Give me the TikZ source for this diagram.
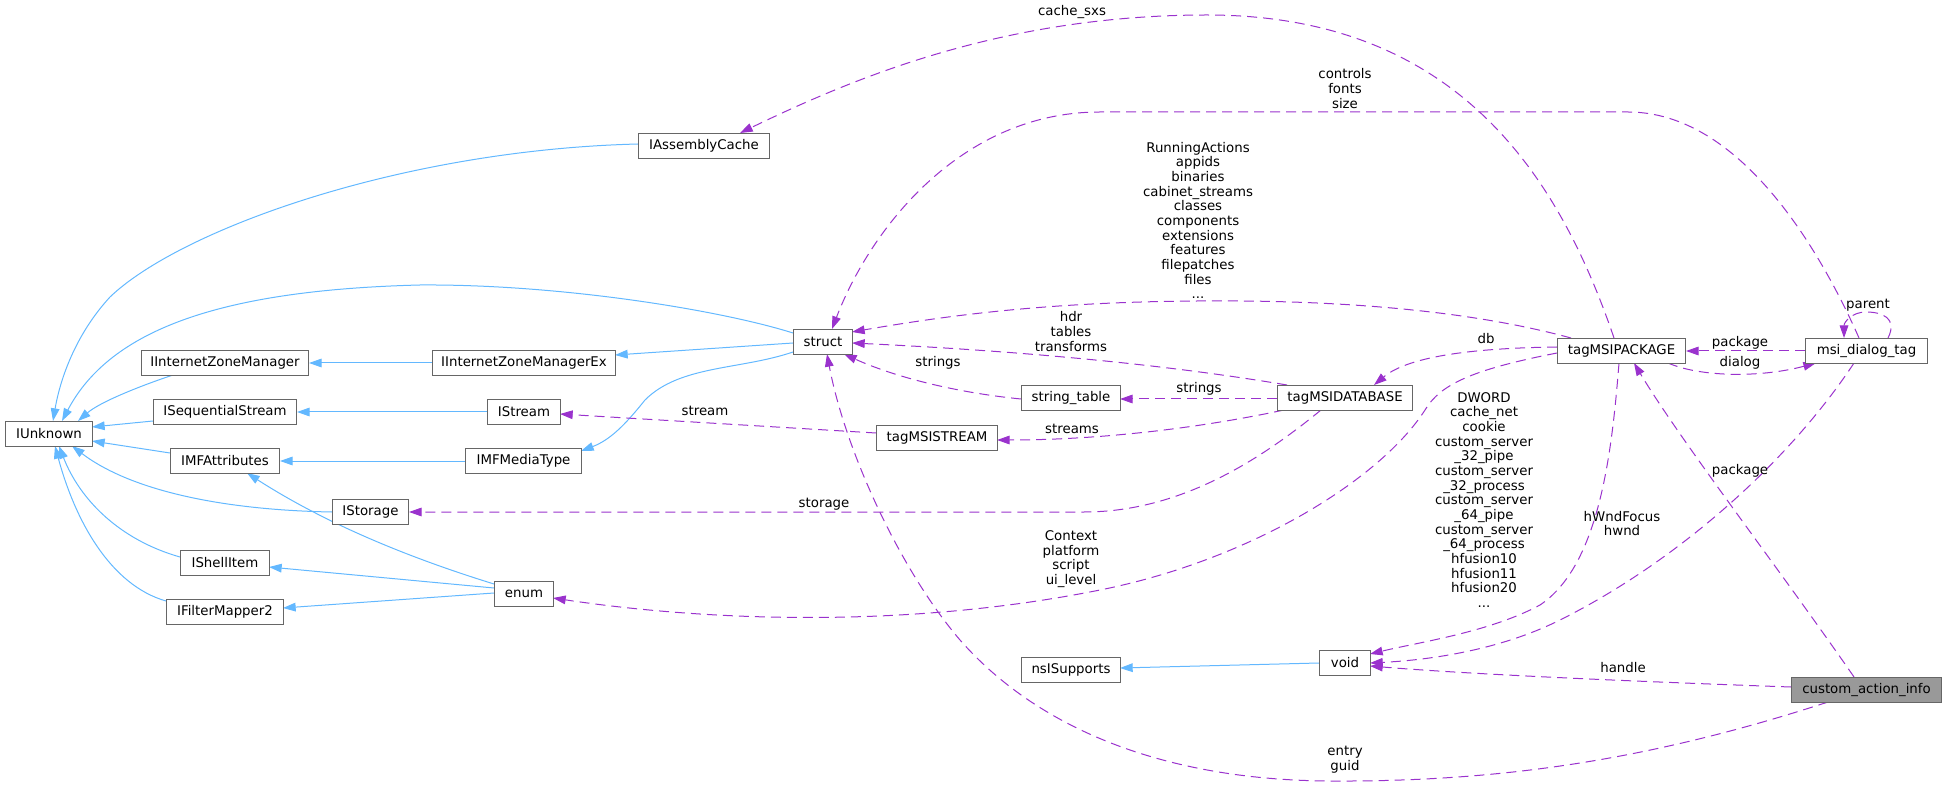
\documentclass[tikz,border=0pt]{standalone}
\usepackage{fontspec}
\setmainfont{DejaVu Sans}
\usetikzlibrary{arrows.meta,calc}
\definecolor{edgeblue}{HTML}{63B8FF}
\definecolor{edgepurple}{HTML}{9A32CD}
\definecolor{nodeborder}{HTML}{666666}
\definecolor{rootfill}{HTML}{999999}
\pgfdeclarelayer{background}
\pgfsetlayers{background,main}
\tikzset{
  cls/.style={draw=nodeborder, line width=0.75pt, fill=white, anchor=north west,
    minimum height=18.75pt, minimum width=#1, inner sep=0pt,
    font=\fontsize{10}{11}\selectfont},
  lbl/.style={font=\fontsize{10}{11}\selectfont, inner sep=0pt, align=center},
  inh/.style={draw=edgeblue, line width=0.75pt, -{Triangle[length=9.5pt,width=6.5pt]}},
  usage/.style={draw=edgepurple, line width=0.75pt, dash pattern=on 7.5pt off 4.5pt,
    -{Triangle[length=9.5pt,width=6.5pt]}},
}
\begin{document}
\begin{tikzpicture}[x=0.75pt,y=-0.75pt]
\useasboundingbox (0,0) rectangle (1947,787);

% nodes
\node[cls=65.25pt]  (IUnknown) at (5,421) {IUnknown};
\node[cls=125.25pt] (IInternetZoneManager) at (141,350) {IInternetZoneManager};
\node[cls=107.25pt] (ISequentialStream) at (153,399) {ISequentialStream};
\node[cls=81.75pt]  (IMFAttributes) at (170,448) {IMFAttributes};
\node[cls=66.75pt]  (IShellItem) at (180,550) {IShellItem};
\node[cls=87.75pt]  (IFilterMapper2) at (166,599) {IFilterMapper2};
\node[cls=98.25pt]  (IAssemblyCache) at (638,133) {IAssemblyCache};
\node[cls=137.25pt] (IInternetZoneManagerEx) at (432,350) {IInternetZoneManagerEx};
\node[cls=54.75pt]  (IStream) at (487,399) {IStream};
\node[cls=87pt]     (IMFMediaType) at (465,448) {IMFMediaType};
\node[cls=57pt]     (IStorage) at (332,499) {IStorage};
\node[cls=44.25pt]  (enum) at (494,581) {enum};
\node[cls=44.25pt]  (struct) at (793,329) {struct};
\node[cls=90.75pt]  (tagMSISTREAM) at (876,425) {tagMSISTREAM};
\node[cls=74.25pt]  (string_table) at (1021,385) {string\_table};
\node[cls=74.25pt]  (nsISupports) at (1021,657) {nsISupports};
\node[cls=101.25pt] (tagMSIDATABASE) at (1277,385) {tagMSIDATABASE};
\node[cls=38.25pt]  (void) at (1319,650) {void};
\node[cls=96pt]     (tagMSIPACKAGE) at (1557,338) {tagMSIPACKAGE};
\node[cls=91.5pt]   (msi_dialog_tag) at (1805,338) {msi\_dialog\_tag};
\node[cls=112.5pt, fill=rootfill] (custom_action_info) at (1791,677) {custom\_action\_info};

\begin{pgfonlayer}{background}
% inheritance edges (blue)
\draw[inh] ($(IAssemblyCache.north west)+(0,11)$) .. controls (400,150) and (180,230) .. (110,297) .. controls (75,335) and (60,380) .. ($(IUnknown.north west)+(48,0)$);
\draw[inh] ($(struct.north west)+(0,4)$) .. controls (720,310) and (560,284) .. (420,285) .. controls (220,290) and (110,330) .. ($(IUnknown.north west)+(57,0)$);
\draw[inh] ($(IInternetZoneManager.north west)+(32,25)$) .. controls (140,386) and (100,402) .. ($(IUnknown.north west)+(73,0)$);
\draw[inh] ($(ISequentialStream.north west)+(0,22)$) -- ($(IUnknown.north west)+(87,6)$);
\draw[inh] ($(IMFAttributes.north west)+(0,5)$) -- ($(IUnknown.north west)+(87,20)$);
\draw[inh] ($(IStorage.north west)+(0,13)$) .. controls (220,510) and (130,490) .. ($(IUnknown.north west)+(67,25)$);
\draw[inh] ($(IShellItem.north west)+(0,7)$) .. controls (120,540) and (80,500) .. ($(IUnknown.north west)+(54,25)$);
\draw[inh] ($(IFilterMapper2.north west)+(0,2)$) .. controls (110,585) and (75,520) .. ($(IUnknown.north west)+(50,25)$);
\draw[inh] (IInternetZoneManagerEx.west) -- (IInternetZoneManager.east);
\draw[inh] (IStream.west) -- (ISequentialStream.east);
\draw[inh] (IMFMediaType.west) -- (IMFAttributes.east);
\draw[inh] ($(enum.north west)+(0,3)$) .. controls (400,555) and (320,520) .. ($(IMFAttributes.north west)+(77,25)$);
\draw[inh] ($(enum.north west)+(0,7)$) -- ($(IShellItem.north west)+(89,17)$);
\draw[inh] ($(enum.north west)+(0,12)$) -- ($(IFilterMapper2.north west)+(117,9)$);
\draw[inh] ($(struct.north west)+(0,14)$) -- ($(IInternetZoneManagerEx.north west)+(183,5)$);
\draw[inh] ($(struct.north west)+(0,23)$) .. controls (740,370) and (680,365) .. (645,400) .. controls (625,425) and (610,440) .. ($(IMFMediaType.north west)+(116,3)$);
\draw[inh] (void.west) -- ($(nsISupports.north west)+(99,11)$);

% usage edges (purple dashed)
\draw[usage] ($(tagMSIPACKAGE.north west)+(57,0)$) .. controls (1560,180) and (1460,15) .. (1207,15) .. controls (1000,15) and (850,80) .. ($(IAssemblyCache.north west)+(102,0)$);
\draw[usage] ($(msi_dialog_tag.north west)+(54,0)$) .. controls (1820,250) and (1740,112) .. (1628,112) -- (1100,112) .. controls (960,112) and (870,230) .. ($(struct.north west)+(39,0)$);
\draw[usage] ($(tagMSIPACKAGE.north west)+(14,0)$) .. controls (1450,305) and (1300,300) .. (1197,301) .. controls (1050,302) and (950,315) .. ($(struct.north west)+(59,3)$);
\draw[usage] ($(tagMSIDATABASE.north west)+(10,0)$) .. controls (1150,362) and (1000,350) .. ($(struct.north west)+(59,14)$);
\draw[usage] ($(string_table.north west)+(0,14)$) .. controls (950,392) and (890,375) .. ($(struct.north west)+(51,25)$);
\draw[usage] ($(tagMSIDATABASE.north west)+(0,14)$) -- ($(string_table.north west)+(99,14)$);
\draw[usage] ($(tagMSIDATABASE.north west)+(7,25)$) .. controls (1200,428) and (1100,440) .. ($(tagMSISTREAM.north west)+(121,15)$);
\draw[usage] ($(tagMSISTREAM.north west)+(0,8)$) -- ($(IStream.north west)+(73,15)$);
\draw[usage] ($(tagMSIDATABASE.north west)+(44,25)$) .. controls (1260,460) and (1180,512) .. (1084,512) -- (IStorage.east);
\draw[usage] ($(tagMSIPACKAGE.north west)+(0,9)$) .. controls (1480,348) and (1410,355) .. ($(tagMSIDATABASE.north west)+(97,0)$);
\draw[usage] ($(tagMSIPACKAGE.north west)+(0,15)$) .. controls (1470,370) and (1440,385) .. (1425,410) .. controls (1380,480) and (1250,560) .. (1100,590) .. controls (900,630) and (700,620) .. ($(enum.north west)+(59,17)$);
\draw[usage] ($(custom_action_info.north west)+(37,25)$) .. controls (1650,760) and (1500,782) .. (1330,781) .. controls (1150,780) and (1030,720) .. (960,640) .. controls (900,570) and (845,450) .. ($(struct.north west)+(34,25)$);
\draw[usage] ($(custom_action_info.north west)+(63,0)$) .. controls (1780,570) and (1680,440) .. ($(tagMSIPACKAGE.north west)+(77,25)$);
\draw[usage] (msi_dialog_tag.west) -- (tagMSIPACKAGE.east);
\draw[usage] ($(tagMSIPACKAGE.north west)+(111,25)$) .. controls (1700,377) and (1760,378) .. ($(msi_dialog_tag.north west)+(11,25)$);
\draw[usage] ($(msi_dialog_tag.north west)+(83,0)$) .. controls (1898,318) and (1882,312) .. (1866,312) .. controls (1852,312) and (1844,322) .. ($(msi_dialog_tag.north west)+(39,0)$);
\draw[usage] ($(tagMSIPACKAGE.north west)+(62,25)$) .. controls (1612,450) and (1600,565) .. (1540,605) .. controls (1490,632) and (1420,642) .. ($(void.north west)+(51,4)$);
\draw[usage] ($(msi_dialog_tag.north west)+(49,25)$) .. controls (1790,460) and (1680,560) .. (1560,620) .. controls (1500,650) and (1430,660) .. ($(void.north west)+(51,13)$);
\draw[usage] ($(custom_action_info.north west)+(0,10)$) .. controls (1650,682) and (1480,675) .. ($(void.north west)+(51,16)$);
\end{pgfonlayer}

% edge labels
\node[lbl] (lcache) at (1072,12) {cache\_sxs};
\node[lbl] (lcontrols) at (1345,88.5) {controls\\fonts\\size};
\node[lbl] (lrunning) at (1198,220.5) {RunningActions\\appids\\binaries\\cabinet\_streams\\classes\\components\\extensions\\features\\filepatches\\files\\...};
\node[lbl] (lhdr) at (1071,331.5) {hdr\\tables\\transforms};
\node[lbl] (lstrings1) at (938,363) {strings};
\node[lbl] (lstrings2) at (1199,389) {strings};
\node[lbl] (lstream) at (705,411) {stream};
\node[lbl] (lstreams) at (1072,429) {streams};
\node[lbl] (lstorage) at (824,504) {storage};
\node[lbl] (ldb) at (1486,339) {db};
\node[lbl] (lpkg1) at (1740,343) {package};
\node[lbl] (ldialog) at (1740,363) {dialog};
\node[lbl] (lparent) at (1868,305) {parent};
\node[lbl] (lcontext) at (1071,559) {Context\\platform\\script\\ui\_level};
\node[lbl] (ldword) at (1484,500) {DWORD\\cache\_net\\cookie\\custom\_server\\\_32\_pipe\\custom\_server\\\_32\_process\\custom\_server\\\_64\_pipe\\custom\_server\\\_64\_process\\hfusion10\\hfusion11\\hfusion20\\...};
\node[lbl] (lhwnd) at (1622,523.5) {hWndFocus\\hwnd};
\node[lbl] (lpkg2) at (1740,471) {package};
\node[lbl] (lhandle) at (1623,668) {handle};
\node[lbl] (lentry) at (1345,759.5) {entry\\guid};
\end{tikzpicture}
\end{document}
